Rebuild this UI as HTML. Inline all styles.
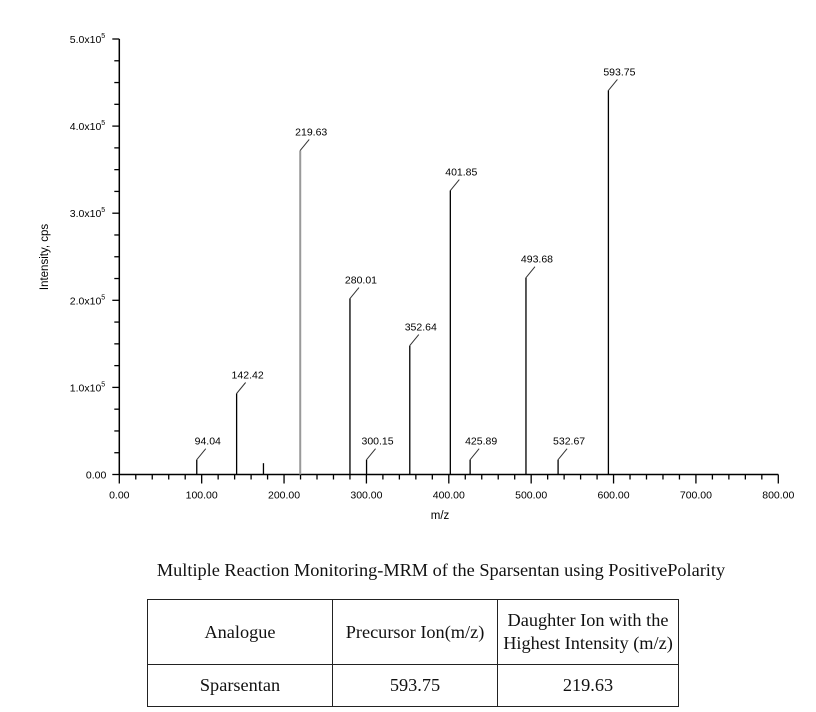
<!DOCTYPE html>
<html><head><meta charset="utf-8">
<style>
body{margin:0;background:#fff;width:816px;height:712px;overflow:hidden;position:relative;font-family:"Liberation Sans",sans-serif;}
svg{position:absolute;left:0;top:0;}
#caption{position:absolute;left:0;width:882px;top:560px;text-align:center;font-family:"Liberation Serif",serif;font-size:18.3px;color:#111;}
table{position:absolute;left:147px;top:599px;border-collapse:collapse;font-family:"Liberation Serif",serif;font-size:18.3px;color:#111;}
td{border:1.5px solid #222;text-align:center;padding:0;line-height:23px;}
tr.last td{border-bottom:1.5px solid #222;}
</style></head><body>
<svg id="chart" width="816" height="540"></svg>
<div id="caption">Multiple Reaction Monitoring-MRM of the Sparsentan using PositivePolarity</div>
<table>
<tr style="height:65px"><td style="width:184px">Analogue</td><td style="width:164px">Precursor Ion(m/z)</td><td style="width:180px">Daughter Ion with the<br>Highest Intensity (m/z)</td></tr>
<tr class="last" style="height:42px"><td>Sparsentan</td><td>593.75</td><td>219.63</td></tr>
</table>
<script>
const mzValues=[94.04,142.42,175.0,219.63,280.01,300.15,352.64,401.85,425.89,493.68,532.67,593.75];
const intensities=[17000,93000,13000,372000,202000,17000,148000,326000,17000,226000,17000,441000];
const peakLabels=["94.04","142.42","","219.63","280.01","300.15","352.64","401.85","425.89","493.68","532.67","593.75"];
const xTickLabels=["0.00","100.00","200.00","300.00","400.00","500.00","600.00","700.00","800.00"];
const yTickLabels=["0.00","1.0x10","2.0x10","3.0x10","4.0x10","5.0x10"];

const NS="http://www.w3.org/2000/svg";
const svg=document.getElementById('chart');
const X0=119.3,X1=778.3,Y0=474.5,Y1=39;
const xs=v=>X0+(v/800)*(X1-X0);
const ys=v=>Y0-(v/500000)*(Y0-Y1);
function mk(tag,attrs,parent){const e=document.createElementNS(NS,tag);for(const k in attrs)e.setAttribute(k,attrs[k]);(parent||svg).appendChild(e);return e;}

const xa=mk('line',{x1:X0,y1:Y0,x2:X1,y2:Y0,stroke:'#000','stroke-width':1.5});


const ya=mk('line',{x1:X0,y1:Y0,x2:X0,y2:Y1,stroke:'#000','stroke-width':1.5});



for(let v=0;v<=800;v+=20){
  const major=v%100===0;
  const t=mk('line',{x1:xs(v),y1:Y0,x2:xs(v),y2:Y0+(major?9:5),stroke:'#000','stroke-width':1.3});
  
  
}
xTickLabels.forEach((s,i)=>{
  const t=mk('text',{x:xs(i*100),y:Y0+24,'font-size':10.5,'text-anchor':'middle',fill:'#000'});
  t.textContent=s;
  
  
});
for(let v=0;v<=500000;v+=25000){
  const major=v%100000===0;
  const t=mk('line',{x1:X0-(major?7:5),y1:ys(v),x2:X0,y2:ys(v),stroke:'#000','stroke-width':1.3});
  
  
}
yTickLabels.forEach((s,i)=>{
  const t=mk('text',{x:i===0?X0-13:X0-18,y:ys(i*100000)+4,'font-size':10.5,'text-anchor':'end',fill:'#000'});
  t.textContent=s;
  
  
  if(i>0){const sp=mk('text',{x:X0-18,y:ys(i*100000)-1,'font-size':7,fill:'#000'});sp.textContent='5';
  
  }
});
const xt=mk('text',{x:440,y:519,'font-size':11.5,'text-anchor':'middle',fill:'#000'});
xt.textContent='m/z';


const yt=mk('text',{x:0,y:0,'font-size':11.5,'text-anchor':'middle',fill:'#000',transform:'translate(48,257) rotate(-90)'});
yt.textContent='Intensity, cps';



mzValues.forEach((m,i)=>{
  const x=xs(m),y=ys(intensities[i]);
  const gray=peakLabels[i]==="219.63";
  const p=mk('line',{x1:x,y1:Y0,x2:x,y2:y,stroke:gray?'#999':'#000','stroke-width':gray?2:1.3});
  
  
  if(peakLabels[i]){
    const l=mk('line',{x1:x,y1:y,x2:x+9,y2:y-11,stroke:'#333','stroke-width':1});
    
    
    const t=mk('text',{x:x+11,y:y-15,'font-size':10.5,'text-anchor':'middle',fill:'#000'});
    t.textContent=peakLabels[i];
    
    
  }
});
</script>
</body></html>
